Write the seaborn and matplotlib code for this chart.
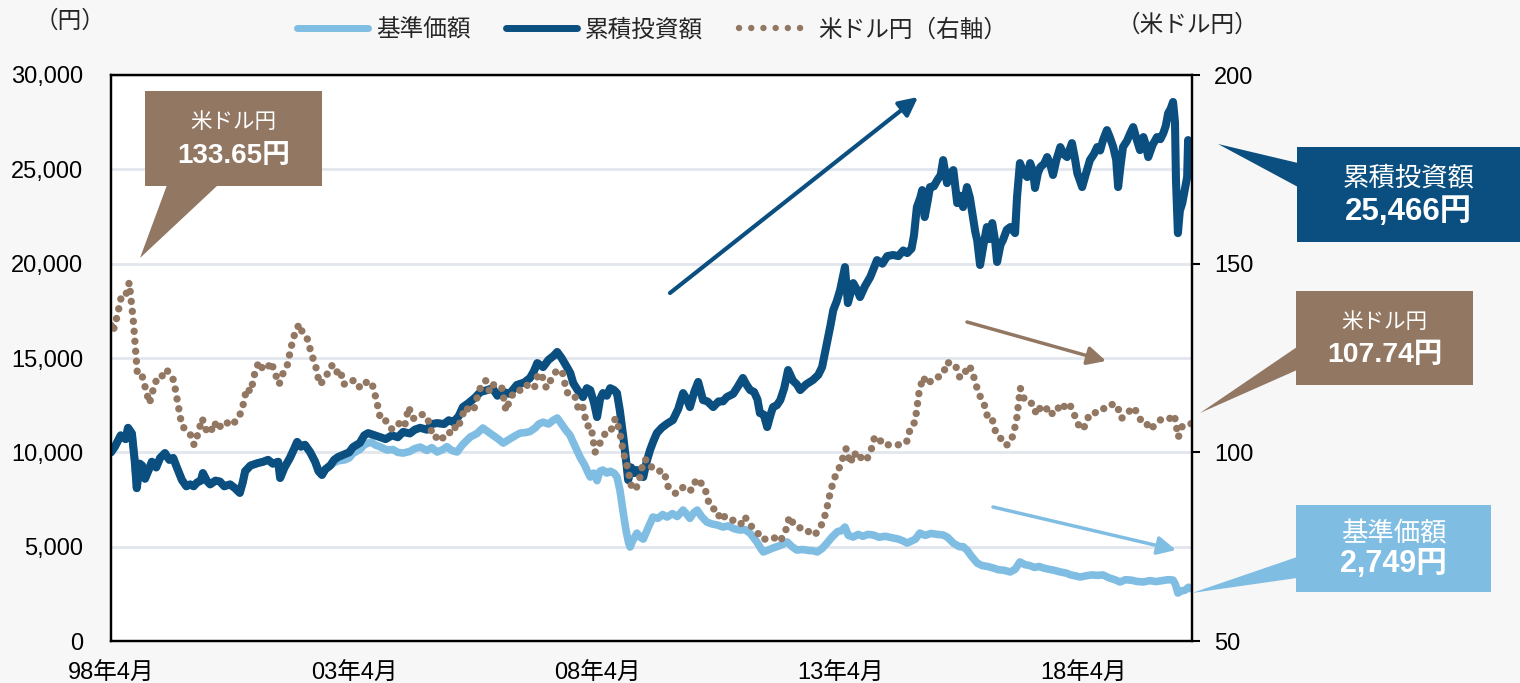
import matplotlib
matplotlib.use("Agg")
import matplotlib.pyplot as plt
from matplotlib.lines import Line2D
from matplotlib.patches import Polygon, Rectangle
from matplotlib.ticker import FuncFormatter
import seaborn as sns

# x axis in decimal years (98年4月 = 1998.25)
x_start = 1998.25
x_end = 2020.49
tick_years = [1998.25, 2003.25, 2008.25, 2013.25, 2018.25]
tick_labels = ["98年4月", "03年4月", "08年4月", "13年4月", "18年4月"]

# 累積投資額 (円)
cum_t = [1998.25, 1998.33, 1998.45, 1998.55, 1998.60, 1998.68, 1998.74, 1998.78, 1998.84, 1998.89,
         1998.95, 1999.03, 1999.09, 1999.18, 1999.26, 1999.36, 1999.45, 1999.53, 1999.62, 1999.71,
         1999.80, 1999.88, 1999.95, 2000.02, 2000.10, 2000.14, 2000.22, 2000.29, 2000.40, 2000.49,
         2000.58, 2000.70, 2000.80, 2000.90, 2000.96, 2001.01, 2001.12, 2001.27, 2001.38, 2001.48,
         2001.58, 2001.69, 2001.73, 2001.82, 2001.93, 2002.02, 2002.08, 2002.16, 2002.24, 2002.35,
         2002.45, 2002.52, 2002.59, 2002.66, 2002.76, 2002.84, 2002.92, 2003.06, 2003.15, 2003.23,
         2003.37, 2003.46, 2003.54, 2003.68, 2003.78, 2003.90, 2004.03, 2004.15, 2004.26, 2004.40,
         2004.50, 2004.61, 2004.75, 2004.85, 2004.96, 2005.10, 2005.20, 2005.29, 2005.40, 2005.49,
         2005.60, 2005.74, 2005.85, 2005.99, 2006.10, 2006.20, 2006.32, 2006.45, 2006.60, 2006.75,
         2006.87, 2006.95, 2007.02, 2007.14, 2007.25, 2007.35, 2007.43, 2007.52, 2007.63, 2007.70,
         2007.76, 2007.85, 2007.96, 2008.04, 2008.11, 2008.19, 2008.25, 2008.31, 2008.37, 2008.45,
         2008.52, 2008.60, 2008.66, 2008.72, 2008.79, 2008.85, 2008.89, 2008.95, 2009.02, 2009.07,
         2009.14, 2009.20, 2009.27, 2009.34, 2009.41, 2009.48, 2009.58, 2009.68, 2009.81, 2009.92,
         2010.02, 2010.10, 2010.16, 2010.25, 2010.33, 2010.43, 2010.52, 2010.64, 2010.75, 2010.84,
         2010.92, 2011.05, 2011.15, 2011.25, 2011.32, 2011.40, 2011.48, 2011.55, 2011.60, 2011.68,
         2011.75, 2011.82, 2011.87, 2011.95, 2012.02, 2012.10, 2012.18, 2012.28, 2012.36, 2012.43,
         2012.55, 2012.69, 2012.80, 2012.88, 2012.98, 2013.05, 2013.11, 2013.18, 2013.25, 2013.35,
         2013.41, 2013.47, 2013.52, 2013.60, 2013.66, 2013.76, 2013.87, 2013.95, 2014.01, 2014.12,
         2014.22, 2014.34, 2014.45, 2014.55, 2014.63, 2014.72, 2014.77, 2014.83, 2014.90, 2014.94,
         2014.99, 2015.05, 2015.10, 2015.18, 2015.25, 2015.32, 2015.37, 2015.45, 2015.52, 2015.58,
         2015.66, 2015.72, 2015.78, 2015.86, 2015.92, 2015.97, 2016.03, 2016.07, 2016.13, 2016.20,
         2016.27, 2016.32, 2016.38, 2016.44, 2016.48, 2016.55, 2016.60, 2016.68, 2016.75, 2016.85,
         2016.89, 2016.95, 2017.03, 2017.10, 2017.16, 2017.22, 2017.26, 2017.32, 2017.37, 2017.45,
         2017.51, 2017.57, 2017.63, 2017.70, 2017.78, 2017.85, 2017.92, 2018.02, 2018.08, 2018.13,
         2018.23, 2018.30, 2018.39, 2018.47, 2018.54, 2018.60, 2018.66, 2018.74, 2018.80, 2018.87,
         2018.93, 2018.97, 2019.02, 2019.07, 2019.15, 2019.22, 2019.28, 2019.35, 2019.42, 2019.49,
         2019.54, 2019.59, 2019.68, 2019.77, 2019.84, 2019.90, 2019.95, 2020.00, 2020.05, 2020.10,
         2020.14, 2020.16, 2020.20, 2020.24, 2020.29, 2020.34, 2020.39, 2020.41, 2020.45, 2020.49]
cum_v = [10000, 10300, 10900, 10700, 11300, 11000, 9500, 8100, 9400, 9300,
         8600, 9100, 9500, 9200, 9700, 9960, 9600, 9700, 9100, 8530,
         8200, 8300, 8200, 8400, 8500, 8900, 8500, 8300, 8500, 8450,
         8200, 8300, 8100, 7850, 8400, 9000, 9300, 9430, 9500, 9600,
         9400, 9500, 8640, 9200, 9700, 10200, 10550, 10300, 10400, 10000,
         9500, 9000, 8800, 9100, 9300, 9600, 9750, 9900, 10000, 10280,
         10500, 10900, 11020, 10900, 10810, 10700, 10900, 10800, 11080, 11000,
         11200, 11300, 11200, 11500, 11550, 11500, 11700, 11600, 11900, 12400,
         12600, 12900, 13200, 13300, 13400, 13000, 13200, 13100, 13570, 13700,
         13940, 14300, 14730, 14520, 14900, 15100, 15320, 15000, 14520, 14200,
         13670, 13300, 12930, 13400, 13300, 12600, 11870, 12800, 13140, 13000,
         13400, 13300, 13140, 12200, 10810, 9500, 8530, 9200, 8900, 9060,
         8900, 8690, 9500, 10120, 10600, 11020, 11300, 11500, 11710, 12300,
         13140, 12800, 12400, 13200, 13730, 12770, 12700, 12400, 12700, 12700,
         12930, 13100, 13500, 13940, 13600, 13300, 13200, 12800, 12080, 12000,
         11340, 12000, 12400, 12500, 12770, 13400, 14360, 13800, 13600, 13300,
         13600, 13830, 14100, 14520, 15790, 16700, 17540, 18000, 18600, 19820,
         17910, 18500, 18970, 18600, 18230, 18800, 19290, 19800, 20190, 20000,
         20400, 20460, 20400, 20700, 20560, 20800, 21500, 23000, 23500, 23900,
         22470, 23300, 24060, 24100, 24430, 24700, 25490, 24270, 24800, 24960,
         23210, 23600, 23000, 24060, 23500, 22680, 21700, 21250, 19930, 21000,
         21940, 21300, 22150, 21200, 20090, 21000, 21250, 21800, 21940, 21620,
         23530, 25330, 24800, 24590, 25330, 24900, 24010, 24800, 25120, 25300,
         25650, 25300, 24700, 25500, 26180, 25800, 25650, 26390, 25600, 24800,
         24060, 24700, 25490, 25800, 26180, 26000, 26550, 27080, 26700, 26180,
         25500, 24060, 25200, 26180, 26500, 26920, 27240, 26600, 26020, 26710,
         26300, 25650, 26300, 26710, 26600, 26920, 27300, 27980, 28200, 28570,
         27500, 24430, 21620, 22800, 23210, 23900, 24590, 26550, 25800, 25466]

# 基準価額 (円) after it parts from 累積投資額 (before that the two lines coincide)
nav_t = [2002.76, 2002.84, 2002.92, 2003.06, 2003.15, 2003.23, 2003.37, 2003.46, 2003.54, 2003.60,
         2003.68, 2003.78, 2003.93, 2004.05, 2004.15, 2004.26, 2004.40, 2004.50, 2004.61, 2004.75,
         2004.85, 2004.96, 2005.08, 2005.16, 2005.26, 2005.37, 2005.48, 2005.64, 2005.78, 2005.90,
         2006.00, 2006.11, 2006.22, 2006.32, 2006.45, 2006.58, 2006.67, 2006.78, 2006.87, 2006.98,
         2007.05, 2007.14, 2007.25, 2007.35, 2007.43, 2007.52, 2007.60, 2007.69, 2007.80, 2007.90,
         2008.00, 2008.05, 2008.11, 2008.18, 2008.25, 2008.31, 2008.37, 2008.45, 2008.52, 2008.60,
         2008.66, 2008.72, 2008.79, 2008.85, 2008.90, 2008.93, 2008.98, 2009.07, 2009.14, 2009.20,
         2009.30, 2009.40, 2009.50, 2009.60, 2009.69, 2009.80, 2009.90, 2010.02, 2010.10, 2010.16,
         2010.24, 2010.31, 2010.40, 2010.51, 2010.62, 2010.72, 2010.84, 2010.95, 2011.07, 2011.19,
         2011.30, 2011.40, 2011.46, 2011.55, 2011.62, 2011.67, 2011.75, 2011.87, 2011.95, 2012.05,
         2012.16, 2012.26, 2012.36, 2012.48, 2012.60, 2012.70, 2012.78, 2012.88, 2012.98, 2013.08,
         2013.20, 2013.28, 2013.35, 2013.42, 2013.52, 2013.62, 2013.72, 2013.82, 2013.93, 2014.05,
         2014.18, 2014.34, 2014.45, 2014.55, 2014.63, 2014.72, 2014.80, 2014.89, 2015.00, 2015.12,
         2015.25, 2015.37, 2015.46, 2015.58, 2015.70, 2015.78, 2015.86, 2015.95, 2016.07, 2016.17,
         2016.28, 2016.40, 2016.50, 2016.62, 2016.75, 2016.85, 2016.95, 2017.05, 2017.15, 2017.25,
         2017.35, 2017.43, 2017.55, 2017.65, 2017.78, 2017.90, 2018.00, 2018.10, 2018.19, 2018.30,
         2018.42, 2018.55, 2018.66, 2018.78, 2018.90, 2019.01, 2019.12, 2019.25, 2019.37, 2019.49,
         2019.62, 2019.75, 2019.88, 2020.00, 2020.10, 2020.15, 2020.20, 2020.27, 2020.35, 2020.42,
         2020.49]
nav_v = [9300, 9450, 9550, 9600, 9700, 9950, 10150, 10400, 10490, 10550,
         10400, 10300, 10120, 10150, 10000, 9960, 10050, 10200, 10280, 10100,
         10250, 10020, 10150, 10300, 10100, 10020, 10400, 10810, 11000, 11290,
         11100, 10900, 10700, 10490, 10700, 10900, 11020, 11050, 11100, 11300,
         11500, 11600, 11500, 11700, 11820, 11500, 11200, 10920, 10300, 9750,
         9300, 9000, 8690, 8900, 8500, 9000, 9060, 8900, 9000, 8900,
         8690, 8000, 6780, 5800, 5200, 4980, 5300, 5720, 5500, 5400,
         6000, 6570, 6500, 6700, 6570, 6750, 6600, 6940, 6700, 6500,
         6800, 6940, 6600, 6300, 6200, 6150, 6040, 6100, 5950, 5880,
         5900, 5700, 5510, 5200, 4900, 4720, 4800, 4930, 5000, 5100,
         5250, 5000, 4820, 4850, 4800, 4780, 4720, 4900, 5190, 5500,
         5800, 5850, 6040, 5600, 5510, 5650, 5550, 5650, 5620, 5500,
         5550, 5460, 5400, 5300, 5190, 5300, 5400, 5720, 5600, 5700,
         5650, 5620, 5500, 5190, 5000, 5000, 4820, 4500, 4130, 4000,
         3950, 3870, 3780, 3750, 3660, 3800, 4190, 4050, 4000, 3900,
         3950, 3870, 3800, 3750, 3660, 3600, 3500, 3450, 3390, 3450,
         3500, 3480, 3500, 3350, 3250, 3130, 3250, 3220, 3150, 3130,
         3200, 3150, 3200, 3250, 3230, 3000, 2540, 2650, 2700, 2850,
         2749]

# 米ドル円, monthly from 1998年4月 to 2020年6月 (right axis)
usd_monthly = [132, 136, 141, 141, 145, 135, 121, 121, 117,                 # 1998
               113, 117, 120, 120, 122, 121, 119, 113, 107, 106, 105, 102,  # 1999
               105, 109, 106, 105, 108, 106, 108, 108, 107, 108, 109, 112,  # 2000
               117, 116, 121, 124, 122, 122, 124, 121, 118, 121, 123, 128,  # 2001
               132, 134, 131, 130, 126, 123, 118, 119, 121, 123, 121, 122,  # 2002
               118, 119, 119, 119, 117, 118, 119, 118, 114, 109, 109, 107,  # 2003
               106, 107, 108, 107, 112, 109, 109, 110, 110, 108, 104, 104,  # 2004
               103, 105, 105, 107, 106, 109, 112, 111, 111, 115, 118, 119,  # 2005
               116, 118, 117, 117, 111, 114, 116, 116, 117, 118, 117, 117,  # 2006
               121, 120, 117, 119, 121, 122, 121, 116, 115, 115, 111, 112,  # 2007
               107, 107, 100, 102, 104, 106, 106, 109, 106, 100, 96, 91,    # 2008
               90, 93, 98, 98, 96, 96, 95, 95, 91, 90, 89, 90,              # 2009
               91, 90, 90, 93, 92, 91, 87, 85, 85, 82, 83, 83,              # 2010
               82, 82, 81, 83, 81, 80, 79, 77, 77, 77, 77, 78,              # 2011
               77, 79, 83, 81, 80, 80, 79, 79, 78, 79, 81, 84,              # 2012
               89, 93, 95, 98, 101, 97, 100, 98, 99, 98, 100, 104,          # 2013
               104, 102, 102, 102, 102, 102, 102, 103, 107, 108, 116, 120,  # 2014
               118, 119, 120, 120, 121, 124, 123, 123, 120, 120, 123, 122,  # 2015
               118, 115, 113, 109, 109, 105, 104, 102, 102, 104, 108, 117,  # 2016
               114, 113, 113, 110, 112, 111, 112, 110, 111, 113, 112, 113,  # 2017
               111, 108, 106, 107, 110, 110, 111, 111, 112, 112, 113, 112,  # 2018
               109, 110, 111, 112, 110, 108, 108, 106, 107, 108, 109, 109,  # 2019
               109, 110, 104, 107, 107, 107.5]                              # 2020
usd_first = 133.65
usd_last = 107.74

light = "#80bde3"
dark = "#0b4f80"
brown = "#927763"

W, H = 1520, 683


def fx(x):
    return x / W


def fy(y):
    return 1 - y / H


sns.set_theme(style="white")
plt.rcParams["font.family"] = ["Liberation Sans", "Noto Sans CJK JP"]

fig = plt.figure(figsize=(15.2, 6.83), dpi=100, facecolor="#f7f7f7")
ax = fig.add_axes([fx(111), fy(641), fx(1192) - fx(111), fy(75) - fy(641)])
ax.set_facecolor("white")
ax2 = ax.twinx()

# 基準価額 coincides with 累積投資額 until they part in late 2002
nav_x = [t for t in cum_t if t < nav_t[0]] + nav_t
nav_y = [v for t, v in zip(cum_t, cum_v) if t < nav_t[0]] + nav_v
usd_x = [x_start] + [x_start + (i + 0.5) / 12 for i in range(len(usd_monthly))] + [x_end]
usd_y = [usd_first] + usd_monthly + [usd_last]

sns.lineplot(x=nav_x, y=nav_y, ax=ax, color=light, lw=5.5, errorbar=None, solid_joinstyle="round")
sns.lineplot(x=cum_t, y=cum_v, ax=ax, color=dark, lw=5.8, errorbar=None, solid_joinstyle="round")
sns.lineplot(x=usd_x, y=usd_y, ax=ax2, color=brown, lw=5.3, errorbar=None,
             linestyle=(0, (0.01, 1.35)), dash_capstyle="round")

ax.set_xlim(x_start, x_end)
ax.set_ylim(0, 30000)
ax.set_yticks(range(0, 30001, 5000))
ax.yaxis.set_major_formatter(FuncFormatter(lambda v, p: f"{v:,.0f}"))
ax.set_xticks(tick_years)
ax.set_xticklabels(tick_labels)
ax2.set_ylim(50, 200)
ax2.set_yticks([50, 100, 150, 200])
ax.set_xlabel("")
ax.set_ylabel("")
ax2.set_ylabel("")

ax.yaxis.grid(True, color="#e2e7ee", lw=2)
ax.xaxis.grid(False)
ax.set_axisbelow(True)

for a in (ax, ax2):
    for s in a.spines.values():
        s.set_visible(True)
        s.set_color("black")
        s.set_linewidth(1.6)
ax.tick_params(axis="y", length=0, pad=20, labelsize=17, colors="black")
ax.tick_params(axis="x", length=6, width=1.5, direction="out", pad=10, labelsize=17, colors="black")
ax2.tick_params(axis="y", length=6, width=1.5, direction="out", pad=10, labelsize=17, colors="black")
for lab in ax.get_xticklabels() + ax.get_yticklabels() + ax2.get_yticklabels():
    lab.set_color("black")

# legend on top
handles = [Line2D([], [], color=light, lw=5, solid_capstyle="round"),
           Line2D([], [], color=dark, lw=5, solid_capstyle="round"),
           Line2D([], [], color=brown, lw=4.6, linestyle=(0, (0.01, 1.9)), dash_capstyle="round")]
fig.legend(handles, ["基準価額", "累積投資額", "米ドル円（右軸）"], loc="center",
           bbox_to_anchor=(fx(652), fy(30)), ncol=3, frameon=False, fontsize=17,
           handlelength=3, columnspacing=1.5, handletextpad=0.35)

fig.text(fx(70), fy(22), "（円）", ha="center", va="center", fontsize=17)
fig.text(fx(1187), fy(25), "（米ドル円）", ha="center", va="center", fontsize=17)

# trend arrows
for (x0, y0, x1, y1, c, lw) in [(670, 293, 918, 97, dark, 3),
                                (967, 322, 1106, 361, brown, 2.5),
                                (993, 507, 1176, 550, light, 2.5)]:
    ax.annotate("", xy=(fx(x1), fy(y1)), xytext=(fx(x0), fy(y0)), xycoords="figure fraction",
                textcoords="figure fraction",
                arrowprops=dict(arrowstyle="-|>", color=c, lw=lw, mutation_scale=28,
                                shrinkA=0, shrinkB=0))

# callout boxes: (box x0, y0, x1, y1), tail polygon, colour, line1 size, line2 size, texts
callouts = [((145, 91, 322, 186), [(167, 185), (218, 185), (140, 258)], brown, 15.5, 20,
             "米ドル円", "133.65円"),
            ((1297, 147, 1520, 242), [(1298, 163), (1298, 187), (1218, 144)], dark, 19, 22.5,
             "累積投資額", "25,466円"),
            ((1296, 291, 1473, 385), [(1297, 347), (1297, 370), (1200, 413)], brown, 15.5, 20.5,
             "米ドル円", "107.74円"),
            ((1296, 505, 1491, 592), [(1297, 557), (1297, 578), (1192, 593)], light, 19, 22,
             "基準価額", "2,749円")]
for (bx0, by0, bx1, by1), tail, c, s1, s2, t1, t2 in callouts:
    fig.add_artist(Rectangle((fx(bx0), fy(by1)), fx(bx1) - fx(bx0), fy(by0) - fy(by1),
                             transform=fig.transFigure, facecolor=c, edgecolor="none"))
    fig.add_artist(Polygon([(fx(px), fy(py)) for px, py in tail], closed=True,
                           transform=fig.transFigure, facecolor=c, edgecolor="none"))
    cx = (bx0 + bx1) / 2
    h = by1 - by0
    fig.text(fx(cx), fy(by0 + h * 0.33), t1, ha="center", va="center", color="white", fontsize=s1)
    fig.text(fx(cx), fy(by0 + h * 0.68), t2, ha="center", va="center", color="white",
             fontsize=s2, fontweight="bold")

fig.savefig("out.png", dpi=100, facecolor=fig.get_facecolor())
